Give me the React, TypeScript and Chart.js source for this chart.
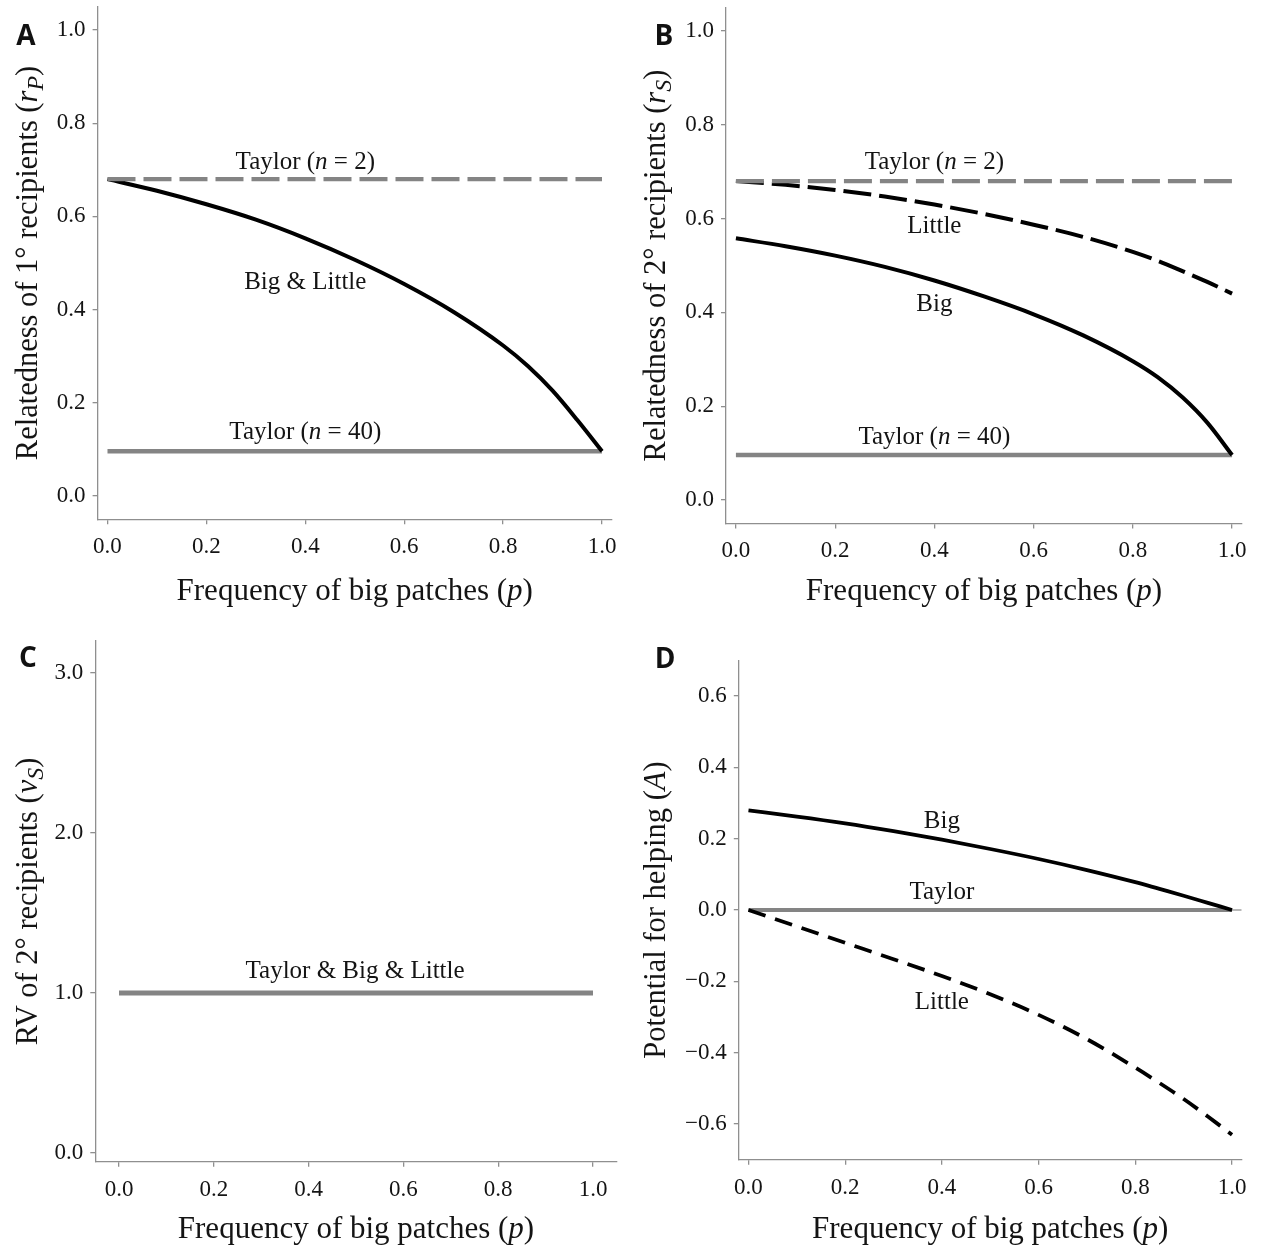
import React, { useEffect, useRef } from "react";
import { Chart, registerables } from "chart.js";

Chart.register(...registerables);

// ---------------- data ----------------
const P = [0, 0.1, 0.2, 0.3, 0.4, 0.5, 0.6, 0.7, 0.8, 0.85, 0.9, 0.95, 1.0];
const A_BIG_LITTLE = [0.68, 0.655, 0.626, 0.593, 0.553, 0.507, 0.455, 0.395, 0.323, 0.279, 0.226, 0.163, 0.096];
const B_BIG = [0.558, 0.541, 0.521, 0.497, 0.468, 0.434, 0.396, 0.351, 0.296, 0.262, 0.219, 0.165, 0.096];
const B_LITTLE = [0.68, 0.672, 0.661, 0.647, 0.63, 0.61, 0.587, 0.561, 0.529, 0.51, 0.488, 0.465, 0.44];
const D_BIG = [0.279, 0.262, 0.243, 0.221, 0.197, 0.171, 0.143, 0.112, 0.078, 0.059, 0.04, 0.02, 0.0];
const D_LITTLE = [0, -0.046, -0.092, -0.138, -0.185, -0.236, -0.294, -0.362, -0.442, -0.485, -0.53, -0.579, -0.63];
const TAYLOR_N2 = 0.68;
const TAYLOR_N40 = 0.096;
const C_RV = 1.0;
const D_TAYLOR = 0.0;
const P_START = 0;
const P_END = 1;

const X_TICKS = [0, 0.2, 0.4, 0.6, 0.8, 1.0];
const Y_TICKS_AB = [0, 0.2, 0.4, 0.6, 0.8, 1.0];
const Y_TICKS_C = [0, 1, 2, 3];
const Y_TICKS_D = [-0.6, -0.4, -0.2, 0, 0.2, 0.4, 0.6];

// ---------------- styles ----------------
const SERIF = '"Liberation Serif", "Times New Roman", serif';
const SANS = '"Open Sans", "Noto Sans", sans-serif';
const AXIS_GRAY = "#8f8f8f";
const LINE_GRAY = "#848484";
const TEXT = "#141414";

type Seg = { t: string; i?: boolean; sub?: boolean };

const X_TITLE: Seg[] = [{ t: "Frequency of big patches (" }, { t: "p", i: true }, { t: ")" }];
const Y_TITLE_A: Seg[] = [{ t: "Relatedness of 1\u00b0 recipients (" }, { t: "r", i: true }, { t: "P", i: true, sub: true }, { t: ")" }];
const Y_TITLE_B: Seg[] = [{ t: "Relatedness of 2\u00b0 recipients (" }, { t: "r", i: true }, { t: "S", i: true, sub: true }, { t: ")" }];
const Y_TITLE_C: Seg[] = [{ t: "RV of 2\u00b0 recipients (" }, { t: "v", i: true }, { t: "S", i: true, sub: true }, { t: ")" }];
const Y_TITLE_D: Seg[] = [{ t: "Potential for helping (" }, { t: "A", i: true }, { t: ")" }];
const TAYLOR2: Seg[] = [{ t: "Taylor (" }, { t: "n", i: true }, { t: " = 2)" }];
const TAYLOR40: Seg[] = [{ t: "Taylor (" }, { t: "n", i: true }, { t: " = 40)" }];

function drawRich(
  ctx: CanvasRenderingContext2D,
  segs: Seg[],
  x: number,
  y: number,
  size: number,
  vertical = false
) {
  ctx.save();
  ctx.translate(x, y);
  if (vertical) ctx.rotate(-Math.PI / 2);
  const font = (s: Seg) => `${s.i ? "italic " : ""}${s.sub ? Math.round(size * 0.78) : size}px ${SERIF}`;
  let total = 0;
  const ws = segs.map((s) => {
    ctx.font = font(s);
    const w = ctx.measureText(s.t).width;
    total += w;
    return w;
  });
  ctx.fillStyle = TEXT;
  ctx.textBaseline = "alphabetic";
  ctx.textAlign = "left";
  let cx = -total / 2;
  const base = size * 0.33;
  segs.forEach((s, k) => {
    ctx.font = font(s);
    ctx.fillText(s.t, cx, base + (s.sub ? size * 0.2 : 0));
    cx += ws[k];
  });
  ctx.restore();
}

interface Note { x: number; y: number; segs: Seg[] }
interface Spec {
  left: number; top: number; width: number; height: number;
  area: { l: number; t: number; r: number; b: number };
  xMin: number; xMax: number; yMin: number; yMax: number;
  yTicks: number[];
  datasets: any[];
  notes: Note[];
  yTitle: Seg[];
  yTitleX: number;
  xTitleY: number;
  letter: string; letterX: number; letterY: number;
}

const fmt = (v: number) => {
  const s = Math.abs(v).toFixed(1);
  return v < -1e-9 ? "\u2212" + s : s;
};

const pts = (xs: number[], ys: number[]) => xs.map((x, k) => ({ x, y: ys[k] }));
const hline = (y: number, x0 = P_START, x1 = P_END) => [{ x: x0, y }, { x: x1, y }];

function lineDs(data: any[], color: string, width: number, dash: number[] = [], order = 0) {
  return {
    data,
    borderColor: color,
    borderWidth: width,
    borderDash: dash,
    borderCapStyle: "butt",
    pointRadius: 0,
    fill: false,
    cubicInterpolationMode: "monotone",
    order,
  };
}

function makeChart(canvas: HTMLCanvasElement, s: Spec) {
  const richPlugin = {
    id: "rich",
    afterDraw(chart: any) {
      const ctx = chart.ctx as CanvasRenderingContext2D;
      const xs = chart.scales.x;
      const ys = chart.scales.y;
      const ca = chart.chartArea;
      s.notes.forEach((n) => drawRich(ctx, n.segs, xs.getPixelForValue(n.x), ys.getPixelForValue(n.y), 25));
      drawRich(ctx, X_TITLE, (ca.left + ca.right) / 2, s.xTitleY - s.top, 31);
      drawRich(ctx, s.yTitle, s.yTitleX - s.left, (ca.top + ca.bottom) / 2, 30.5, true);
      ctx.save();
      ctx.font = `bold 28px ${SANS}`;
      ctx.fillStyle = "#111";
      ctx.textAlign = "center";
      ctx.textBaseline = "middle";
      ctx.fillText(s.letter, s.letterX - s.left, s.letterY - s.top);
      ctx.restore();
    },
  };
  const tickFont = { family: SERIF, size: 23 };
  return new Chart(canvas, {
    type: "line",
    data: { datasets: s.datasets },
    options: {
      animation: false,
      responsive: false,
      maintainAspectRatio: false,
      events: [],
      layout: {
        padding: { left: 0, top: s.area.t - s.top, right: s.left + s.width - s.area.r, bottom: 0 },
      },
      plugins: { legend: { display: false }, tooltip: { enabled: false } },
      scales: {
        x: {
          type: "linear",
          min: s.xMin,
          max: s.xMax,
          afterBuildTicks: (sc: any) => { sc.ticks = X_TICKS.map((v) => ({ value: v })); },
          afterFit: (sc: any) => {
            sc.height = s.top + s.height - s.area.b;
            sc.paddingLeft = 0;
            sc.paddingRight = 0;
          },
          ticks: { font: tickFont, color: TEXT, padding: 9, maxRotation: 0, autoSkip: false, callback: (v: any) => fmt(Number(v)) },
          grid: { drawOnChartArea: false, drawTicks: true, tickLength: 5, color: AXIS_GRAY, lineWidth: 1.3 },
          border: { display: true, color: AXIS_GRAY, width: 1.3 },
        },
        y: {
          type: "linear",
          min: s.yMin,
          max: s.yMax,
          afterBuildTicks: (sc: any) => { sc.ticks = s.yTicks.map((v) => ({ value: v })); },
          afterFit: (sc: any) => {
            sc.width = s.area.l - s.left;
            sc.paddingTop = 0;
            sc.paddingBottom = 0;
          },
          ticks: { font: tickFont, color: TEXT, padding: 7, autoSkip: false, callback: (v: any) => fmt(Number(v)) },
          grid: { drawOnChartArea: false, drawTicks: true, tickLength: 5, color: AXIS_GRAY, lineWidth: 1.3 },
          border: { display: true, color: AXIS_GRAY, width: 1.3 },
        },
      },
    } as any,
    plugins: [richPlugin],
  });
}

const SPECS: Spec[] = [
  {
    left: 0, top: 0, width: 630, height: 622,
    area: { l: 97.6, t: 6.7, r: 611.9, b: 519.3 },
    xMin: -0.02, xMax: 1.02, yMin: -0.05, yMax: 1.05, yTicks: Y_TICKS_AB,
    datasets: [
      lineDs(hline(TAYLOR_N40), LINE_GRAY, 4.5, [], 3),
      lineDs(pts(P, A_BIG_LITTLE), "#000", 4, [], 2),
      lineDs(hline(TAYLOR_N2), LINE_GRAY, 4.3, [28, 8], 1),
    ],
    notes: [
      { x: 0.4, y: 0.72, segs: TAYLOR2 },
      { x: 0.4, y: 0.461, segs: [{ t: "Big & Little" }] },
      { x: 0.4, y: 0.139, segs: TAYLOR40 },
    ],
    yTitle: Y_TITLE_A, yTitleX: 27, xTitleY: 590,
    letter: "A", letterX: 26, letterY: 37,
  },
  {
    left: 630, top: 0, width: 631, height: 622,
    area: { l: 726, t: 7.5, r: 1242, b: 523.5 },
    xMin: -0.02, xMax: 1.02, yMin: -0.05, yMax: 1.05, yTicks: Y_TICKS_AB,
    datasets: [
      lineDs(hline(TAYLOR_N40), LINE_GRAY, 4.5, [], 4),
      lineDs(pts(P, B_BIG), "#000", 4, [], 3),
      lineDs(pts(P, B_LITTLE), "#000", 4, [28, 8], 2),
      lineDs(hline(TAYLOR_N2), LINE_GRAY, 4.3, [28, 8], 1),
    ],
    notes: [
      { x: 0.4, y: 0.723, segs: TAYLOR2 },
      { x: 0.4, y: 0.587, segs: [{ t: "Little" }] },
      { x: 0.4, y: 0.421, segs: [{ t: "Big" }] },
      { x: 0.4, y: 0.136, segs: TAYLOR40 },
    ],
    yTitle: Y_TITLE_B, yTitleX: 655, xTitleY: 590,
    letter: "B", letterX: 664, letterY: 37,
  },
  {
    left: 0, top: 622, width: 630, height: 623,
    area: { l: 95.3, t: 641, r: 616.7, b: 1161.8 },
    xMin: -0.05, xMax: 1.05, yMin: -0.055, yMax: 3.2, yTicks: Y_TICKS_C,
    datasets: [lineDs(hline(C_RV), LINE_GRAY, 5, [], 1)],
    notes: [{ x: 0.498, y: 1.144, segs: [{ t: "Taylor & Big & Little" }] }],
    yTitle: Y_TITLE_C, yTitleX: 27, xTitleY: 1228,
    letter: "C", letterX: 28, letterY: 659,
  },
  {
    left: 630, top: 622, width: 631, height: 623,
    area: { l: 738.8, t: 660.3, r: 1241.7, b: 1159.7 },
    xMin: -0.02, xMax: 1.02, yMin: -0.7, yMax: 0.7, yTicks: Y_TICKS_D,
    datasets: [
      lineDs(hline(D_TAYLOR, P_START, 1.02), "#a0a0a0", 1.3, [], 5),
      lineDs(hline(D_TAYLOR), LINE_GRAY, 3.8, [], 4),
      lineDs(pts(P, D_BIG), "#000", 3.8, [], 3),
      lineDs(pts(P, D_LITTLE), "#000", 3.8, [18, 10], 2),
    ],
    notes: [
      { x: 0.4, y: 0.252, segs: [{ t: "Big" }] },
      { x: 0.4, y: 0.053, segs: [{ t: "Taylor" }] },
      { x: 0.4, y: -0.255, segs: [{ t: "Little" }] },
    ],
    yTitle: Y_TITLE_D, yTitleX: 655, xTitleY: 1228,
    letter: "D", letterX: 665, letterY: 660,
  },
];

function Panel({ spec }: { spec: Spec }) {
  const ref = useRef<HTMLCanvasElement | null>(null);
  useEffect(() => {
    if (!ref.current) return;
    const chart = makeChart(ref.current, spec);
    return () => chart.destroy();
  }, [spec]);
  return (
    <canvas
      ref={ref}
      width={spec.width}
      height={spec.height}
      style={{ position: "absolute", left: spec.left, top: spec.top, width: spec.width, height: spec.height }}
    />
  );
}

export default function App() {
  return (
    <div style={{ position: "absolute", left: 0, top: 0, width: 1261, height: 1245, background: "#fff" }}>
      {SPECS.map((s, k) => (
        <Panel key={k} spec={s} />
      ))}
    </div>
  );
}
